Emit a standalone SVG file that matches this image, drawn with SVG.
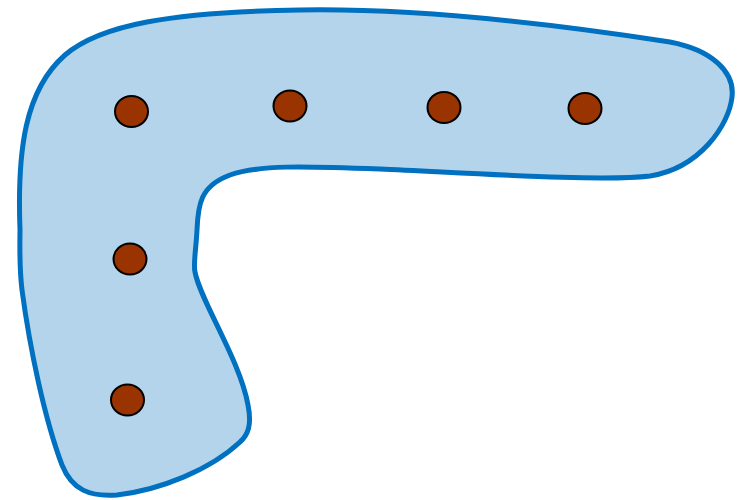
<svg xmlns="http://www.w3.org/2000/svg" width="741" height="500" viewBox="0 0 741 500">
<style>
.blob{fill:#b4d4ec;stroke:#0070c0;stroke-width:5;stroke-linejoin:round}
.dot{fill:#993300;stroke:#000;stroke-width:2}
</style>
<rect width="741" height="500" fill="#fff"/>
<path class="blob" d="M 20 230 C 17 150 25 90 65 55 C 100 25 170 12 300 10 C 420 8 560 25 670 42 C 712 50 735 72 732 97 C 729 125 700 168 650 176 C 600 182 470 173 380 169 C 300 166 260 165 230 175 C 200 186 198 205 197 230 C 196 250 193 265 195 272 C 200 300 240 360 248 405 C 252 425 248 435 240 442 C 210 470 160 490 117 495 C 90 497 72 490 62 465 C 45 420 30 350 22 290 C 19 265 20 240 20 230 Z"/>
<g id="dots">
<ellipse class="dot" cx="131.5" cy="111.5" rx="16.5" ry="15.5"/>
<ellipse class="dot" cx="290" cy="106" rx="16.5" ry="15.5"/>
<ellipse class="dot" cx="444" cy="107.5" rx="16.5" ry="15.5"/>
<ellipse class="dot" cx="585" cy="108.5" rx="16.5" ry="15.5"/>
<ellipse class="dot" cx="130" cy="259" rx="16.5" ry="15.5"/>
<ellipse class="dot" cx="127.5" cy="400" rx="16.5" ry="15.5"/>
</g>
</svg>
